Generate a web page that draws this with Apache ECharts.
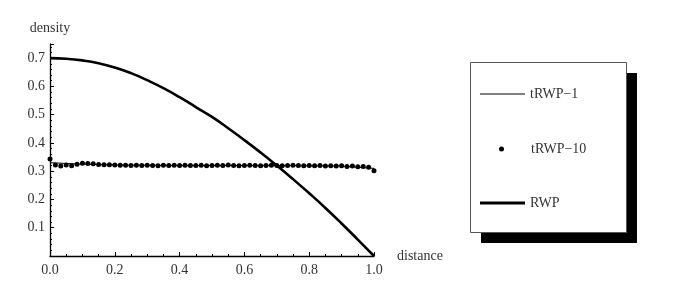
<!DOCTYPE html>
<html>
<head>
<meta charset="utf-8">
<script src="https://cdn.jsdelivr.net/npm/echarts@6/dist/echarts.min.js"></script>
<style>
  html, body { margin: 0; padding: 0; background: #fff; }
  #chart { width: 696px; height: 289px; }
</style>
</head>
<body>
<div id="chart"></div>
<script>
// distances where the curves were sampled
var rwpX = [0, 0.05, 0.1, 0.15, 0.2, 0.25, 0.3, 0.35, 0.4, 0.45, 0.5,
            0.55, 0.6, 0.65, 0.7, 0.75, 0.8, 0.85, 0.9, 0.95, 1.0];
// RWP density (thick curve)
var rwpY = [0.700, 0.698, 0.692, 0.682, 0.667, 0.647, 0.622, 0.594, 0.562, 0.527, 0.492,
            0.452, 0.410, 0.366, 0.320, 0.272, 0.222, 0.170, 0.115, 0.058, 0.0];

// tRWP-1 (thin line, mostly hidden under the dots)
var t1X = [0, 0.1, 0.2, 0.3, 0.4, 0.5, 0.6, 0.7, 0.8, 0.9, 1.0];
var t1Y = [0.330, 0.325, 0.322, 0.321, 0.320, 0.320, 0.320, 0.320, 0.319, 0.318, 0.310];

// tRWP-10 dots, 61 samples from 0 to 1
var t10Step = 1 / 60;
var t10Y = [0.343, 0.322, 0.318, 0.322, 0.319, 0.325, 0.328, 0.327, 0.326, 0.324,
            0.323, 0.323, 0.322, 0.321, 0.321, 0.320, 0.321, 0.320, 0.321, 0.320,
            0.319, 0.321, 0.320, 0.321, 0.320, 0.321, 0.320, 0.320, 0.321, 0.319,
            0.320, 0.321, 0.320, 0.322, 0.320, 0.319, 0.320, 0.321, 0.320, 0.319,
            0.320, 0.321, 0.320, 0.319, 0.320, 0.321, 0.320, 0.319, 0.320, 0.319,
            0.320, 0.318, 0.319, 0.318, 0.319, 0.317, 0.318, 0.316, 0.317, 0.314,
            0.302];

var seriesNames = ['tRWP\u22121', 'tRWP\u221210', 'RWP'];

function pairs(xs, ys) {
    return ys.map(function (v, i) { return [xs[i], v]; });
}

var chart = echarts.init(document.getElementById('chart'));
var serif = 'Liberation Serif, Times New Roman, serif';
var textCol = '#333';

// one legend per entry so each icon gets its own size
function legendFor(name, left, top, icon, w, h, padLeft) {
    return {
        orient: 'vertical',
        left: left,
        top: top,
        padding: 0,
        itemWidth: w,
        itemHeight: h,
        z: 10,
        textStyle: {
            color: textCol, fontFamily: serif, fontSize: 14,
            padding: [0, 0, 0, padLeft]
        },
        data: [{ name: name, icon: icon }]
    };
}

var option = {
    animation: false,
    grid: { left: 50, right: 322, top: 44, bottom: 33 },
    xAxis: {
        type: 'value',
        min: 0,
        max: 1,
        interval: 0.2,
        name: 'distance',
        nameLocation: 'end',
        nameGap: 23,
        nameTextStyle: { color: textCol, fontFamily: serif, fontSize: 14 },
        axisLine: { lineStyle: { color: '#000', width: 1.3 } },
        axisTick: { inside: true, length: 4, lineStyle: { color: '#000' } },
        minorTick: { show: true, splitNumber: 4, length: 2, lineStyle: { color: '#000' } },
        axisLabel: {
            margin: 7,
            color: textCol,
            fontFamily: serif,
            fontSize: 14,
            formatter: function (v) { return v.toFixed(1); }
        },
        splitLine: { show: false }
    },
    yAxis: {
        type: 'value',
        min: 0,
        max: 0.75,
        interval: 0.1,
        name: 'density',
        nameLocation: 'end',
        nameGap: 9,
        nameTextStyle: { color: textCol, fontFamily: serif, fontSize: 14 },
        axisLine: { lineStyle: { color: '#000', width: 1.3 } },
        axisTick: { inside: true, length: 4, lineStyle: { color: '#000' } },
        minorTick: { show: true, splitNumber: 5, length: 2, lineStyle: { color: '#000' } },
        axisLabel: {
            margin: 5,
            color: textCol,
            fontFamily: serif,
            fontSize: 14,
            formatter: function (v) {
                if (v < 0.05 || Math.abs(v * 10 - Math.round(v * 10)) > 1e-6) return '';
                return v.toFixed(1);
            }
        },
        splitLine: { show: false }
    },
    legend: [
        legendFor(seriesNames[0], 480, 87, 'rect', 45, 1.2, 0),
        legendFor(seriesNames[1], 499, 142, 'circle', 5, 5, 22),
        legendFor(seriesNames[2], 480, 196, 'rect', 45, 3, 0)
    ],
    graphic: [
        {
            type: 'rect', z: 1,
            shape: { x: 481, y: 73, width: 156, height: 170 },
            style: { fill: '#000' }
        },
        {
            type: 'rect', z: 2,
            shape: { x: 470.5, y: 62.5, width: 156, height: 170 },
            style: { fill: '#fff', stroke: '#555', lineWidth: 1 }
        }
    ],
    series: [
        {
            name: seriesNames[0],
            type: 'line',
            data: pairs(t1X, t1Y),
            symbol: 'none',
            lineStyle: { color: '#000', width: 1 },
            itemStyle: { color: '#000' }
        },
        {
            name: seriesNames[1],
            type: 'scatter',
            data: t10Y.map(function (v, i) { return [i * t10Step, v]; }),
            symbol: 'circle',
            symbolSize: 5,
            itemStyle: { color: '#000', opacity: 1 }
        },
        {
            name: seriesNames[2],
            type: 'line',
            data: pairs(rwpX, rwpY),
            smooth: true,
            symbol: 'none',
            lineStyle: { color: '#000', width: 2.6 },
            itemStyle: { color: '#000' }
        }
    ]
};

chart.setOption(option);
</script>
</body>
</html>
